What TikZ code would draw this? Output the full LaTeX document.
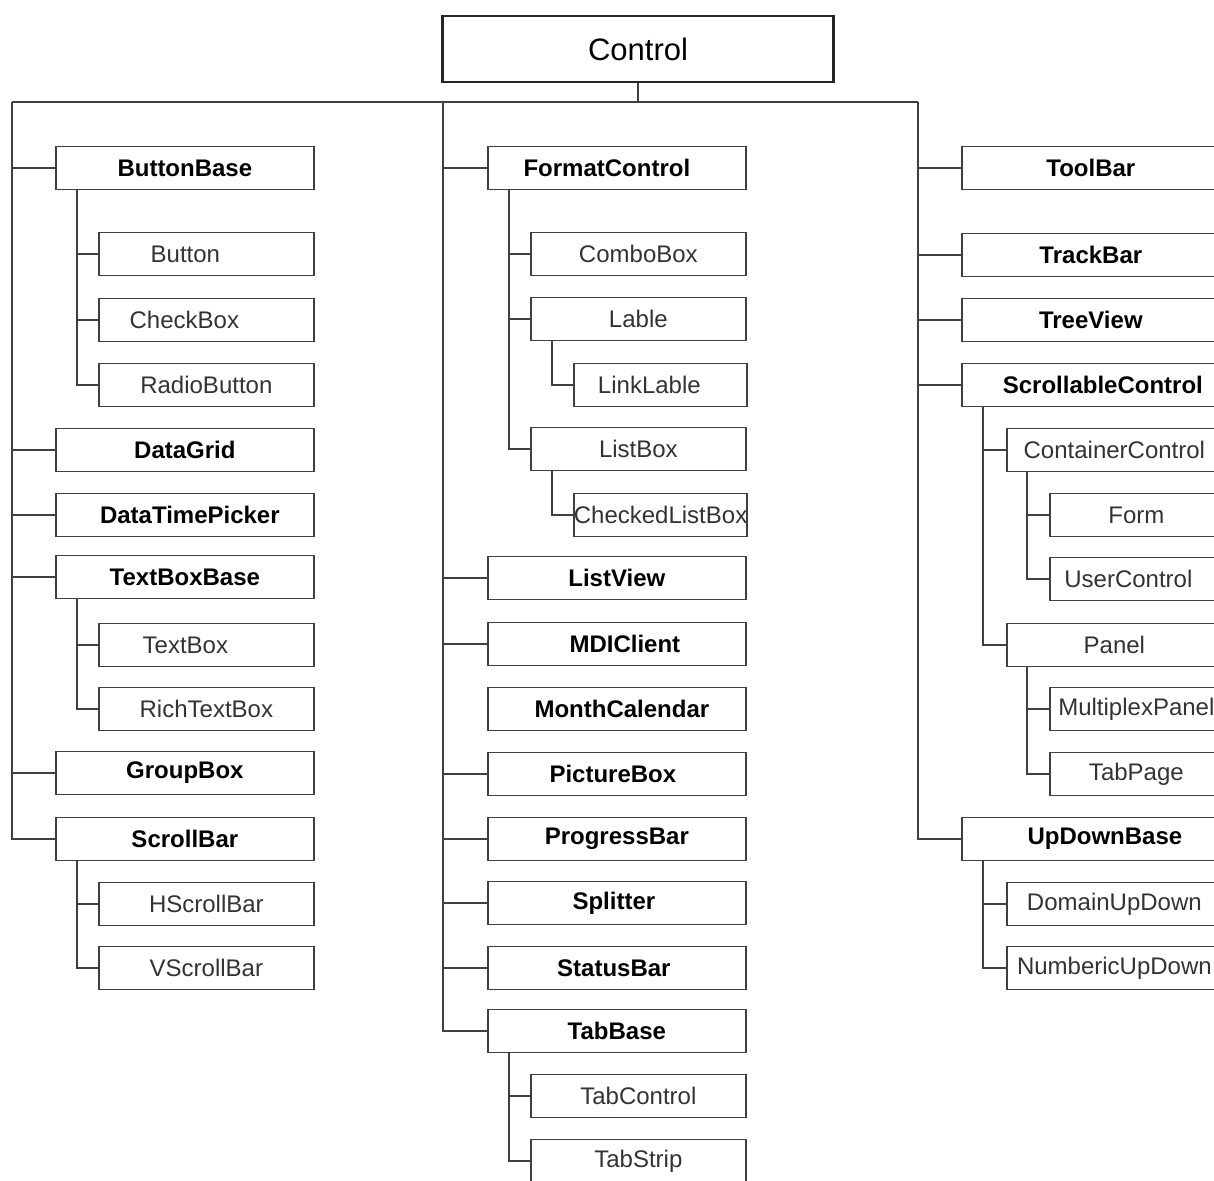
\documentclass[tikz,border=0pt]{standalone}
\usepackage{fontspec}
\setmainfont{Liberation Sans}
\usetikzlibrary{positioning}

\begin{document}
\begin{tikzpicture}[
  x=1pt, y=-1pt,
  root/.style={draw=black!85, line width=2.6pt, minimum width=391pt, minimum height=66pt, inner sep=0pt, font=\fontsize{31}{34}\selectfont},
  base/.style={draw=black!75, line width=1.7pt, anchor=west, minimum height=43pt, inner sep=0pt, fill=white},
  lvla/.style={base, minimum width=258pt, font=\fontsize{24}{26}\selectfont\bfseries},
  lvlb/.style={base, minimum width=215pt, text=black!80, font=\fontsize{24}{26}\selectfont},
  lvlc/.style={base, minimum width=173pt, text=black!80, font=\fontsize{24}{26}\selectfont},
  nudge/.style={execute at begin node={\hspace*{#1}\hspace*{#1}}},
  link/.style={draw=black!75, line width=1.7pt},
]
  \fill[white] (0,0) rectangle (1214,1180);
  \useasboundingbox (0,0) rectangle (1214,1180);

  \node[root] (ctrl) at (638,49) {Control};
  \coordinate (lt) at (12,102);
  \coordinate (mt) at (443,102);
  \coordinate (rt) at (918,102);

  % left column
  \node[lvla] (bb)  at (55,168) {ButtonBase};
  \node[lvlb, nudge=-21pt] (btn) at (98,254) {Button};
  \node[lvlb, nudge=-22pt] (chk) at (98,320) {CheckBox};
  \node[lvlb] (rad) at (98,385) {RadioButton};
  \node[lvla] (dg)  at (55,450) {DataGrid};
  \node[lvla, nudge=5pt] (dtp) at (55,515) {DataTimePicker};
  \node[lvla] (tbb) at (55,577) {TextBoxBase};
  \node[lvlb, nudge=-21pt] (tb)  at (98,645) {TextBox};
  \node[lvlb] (rtb) at (98,709) {RichTextBox};
  \node[lvla] (gb)  at (55,773) {GroupBox};
  \node[lvla] (sb)  at (55,839) {ScrollBar};
  \node[lvlb] (hsb) at (98,904) {HScrollBar};
  \node[lvlb] (vsb) at (98,968) {VScrollBar};

  % middle column
  \node[lvla, nudge=-10pt] (fc)  at (487,168) {FormatControl};
  \node[lvlb] (cb)  at (530,254) {ComboBox};
  \node[lvlb] (lbl) at (530,319) {Lable};
  \node[lvlc, nudge=-11pt] (ll)  at (573,385) {LinkLable};
  \node[lvlb] (lb)  at (530,449) {ListBox};
  \node[lvlc] (clb) at (573,515) {CheckedListBox};
  \node[lvla] (lv)  at (487,578) {ListView};
  \node[lvla, nudge=8pt] (mdi) at (487,644) {MDIClient};
  \node[lvla, nudge=5pt] (mc)  at (487,709) {MonthCalendar};
  \node[lvla, nudge=-4pt] (pb)  at (487,774) {PictureBox};
  \node[lvla] (prb) at (487,839) {ProgressBar};
  \node[lvla, nudge=-3pt] (spl) at (487,903) {Splitter};
  \node[lvla, nudge=-3pt] (stb) at (487,968) {StatusBar};
  \node[lvla] (tab) at (487,1031) {TabBase};
  \node[lvlb] (tc)  at (530,1096) {TabControl};
  \node[lvlb] (ts)  at (530,1161) {TabStrip};

  % right column
  \node[lvla] (tlb) at (961,168) {ToolBar};
  \node[lvla] (trb) at (961,255) {TrackBar};
  \node[lvla] (tv)  at (961,320) {TreeView};
  \node[lvla, nudge=12pt] (sc)  at (961,385) {ScrollableControl};
  \node[lvlb] (cc)  at (1006,450) {ContainerControl};
  \node[lvlc] (frm) at (1049,515) {Form};
  \node[lvlc, nudge=-8pt] (uc)  at (1049,579) {UserControl};
  \node[lvlb] (pnl) at (1006,645) {Panel};
  \node[lvlc] (mp)  at (1049,709) {MultiplexPanel};
  \node[lvlc] (tp)  at (1049,774) {TabPage};
  \node[lvla, nudge=14pt] (udb) at (961,839) {UpDownBase};
  \node[lvlb] (dud) at (1006,904) {DomainUpDown};
  \node[lvlb] (nud) at (1006,968) {NumbericUpDown};

  % trunks
  \draw[link] (ctrl.south) -- (ctrl.south |- lt);
  \draw[link] (lt) -- (rt);
  \draw[link] (lt) |- (bb.west) (lt) |- (dg.west) (lt) |- (dtp.west)
    (lt) |- (tbb.west) (lt) |- (gb.west) (lt) |- (sb.west);
  \draw[link] (mt) |- (fc.west) (mt) |- (lv.west) (mt) |- (mdi.west)
    (mt) |- (pb.west) (mt) |- (prb.west) (mt) |- (spl.west)
    (mt) |- (stb.west) (mt) |- (tab.west);
  \draw[link] (rt) |- (tlb.west) (rt) |- (trb.west) (rt) |- (tv.west)
    (rt) |- (sc.west) (rt) |- (udb.west);

  % branches
  \draw[link] ([xshift=22pt]bb.south west) |- (btn.west)
    ([xshift=22pt]bb.south west) |- (chk.west)
    ([xshift=22pt]bb.south west) |- (rad.west);
  \draw[link] ([xshift=22pt]tbb.south west) |- (tb.west)
    ([xshift=22pt]tbb.south west) |- (rtb.west);
  \draw[link] ([xshift=22pt]sb.south west) |- (hsb.west)
    ([xshift=22pt]sb.south west) |- (vsb.west);
  \draw[link] ([xshift=22pt]fc.south west) |- (cb.west)
    ([xshift=22pt]fc.south west) |- (lbl.west)
    ([xshift=22pt]fc.south west) |- (lb.west);
  \draw[link] ([xshift=22pt]lbl.south west) |- (ll.west);
  \draw[link] ([xshift=22pt]lb.south west) |- (clb.west);
  \draw[link] ([xshift=22pt]tab.south west) |- (tc.west)
    ([xshift=22pt]tab.south west) |- (ts.west);
  \draw[link] ([xshift=22pt]sc.south west) |- (cc.west)
    ([xshift=22pt]sc.south west) |- (pnl.west);
  \draw[link] ([xshift=21pt]cc.south west) |- (frm.west)
    ([xshift=21pt]cc.south west) |- (uc.west);
  \draw[link] ([xshift=21pt]pnl.south west) |- (mp.west)
    ([xshift=21pt]pnl.south west) |- (tp.west);
  \draw[link] ([xshift=22pt]udb.south west) |- (dud.west)
    ([xshift=22pt]udb.south west) |- (nud.west);
\end{tikzpicture}
\end{document}
